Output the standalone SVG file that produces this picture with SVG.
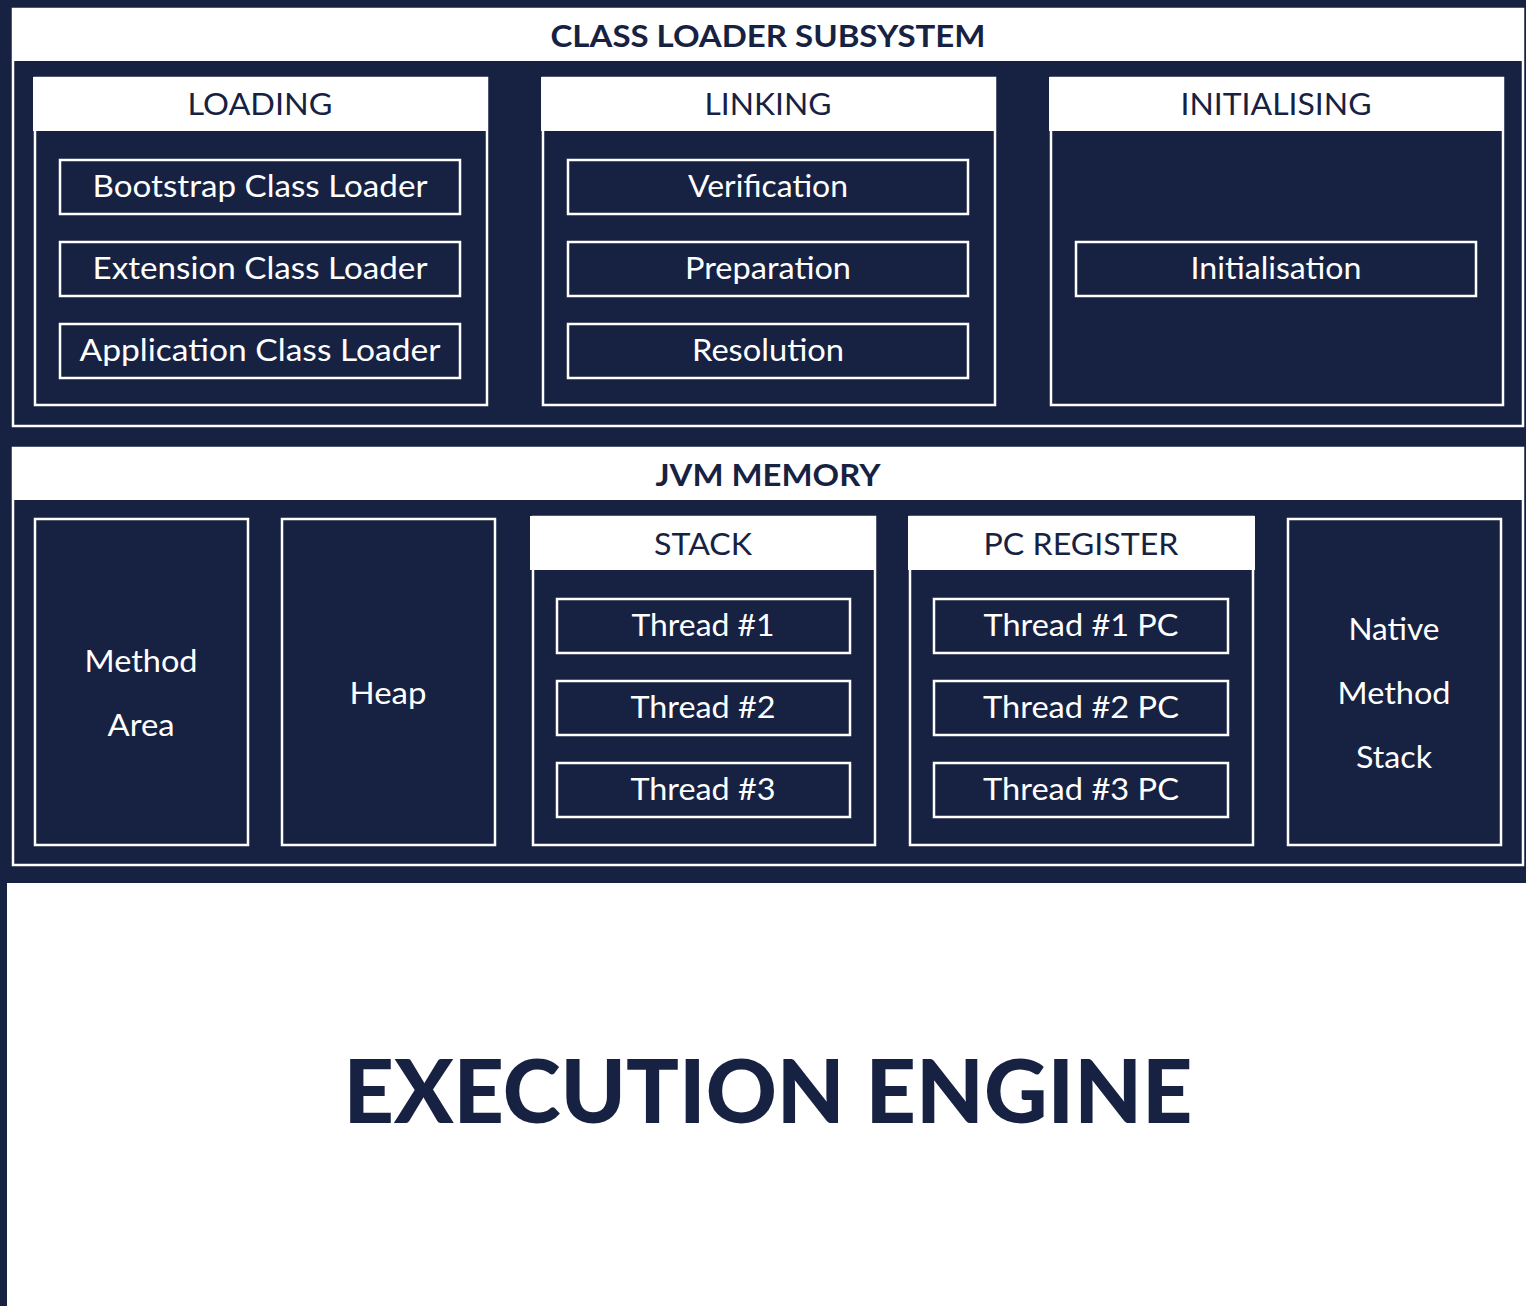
<svg xmlns="http://www.w3.org/2000/svg" width="1526" height="1306" viewBox="0 0 1526 1306">
<style>
.box{fill:none;stroke:#ffffff;stroke-width:2.5}
.hdr{fill:#ffffff}
.t{font-family:Lato,"Noto Sans",sans-serif;font-size:30px;fill:#ffffff;text-anchor:middle;dominant-baseline:central}
.h{font-family:Lato,"Noto Sans",sans-serif;font-size:30px;fill:#172243;text-anchor:middle;dominant-baseline:central}
.b{font-family:Lato,"Noto Sans",sans-serif;font-weight:bold;font-size:30px;fill:#172243;text-anchor:middle;dominant-baseline:central}
</style>
<rect x="0" y="0" width="1526" height="1306" fill="#172243"/>
<rect x="7" y="883" width="1519" height="423" fill="#ffffff"/>

<g id="class-loader-subsystem">
<rect class="box" x="13" y="9" width="1510" height="417"/>
<rect class="hdr" x="12" y="8" width="1512" height="53"/>
<text class="b" x="768" y="35" textLength="435" lengthAdjust="spacingAndGlyphs">CLASS LOADER SUBSYSTEM</text>
</g>

<g id="loading">
<rect class="box" x="35" y="78" width="452" height="327"/>
<rect class="hdr" x="33" y="77" width="455" height="54"/>
<text class="h" x="260" y="103" textLength="145" lengthAdjust="spacingAndGlyphs">LOADING</text>
</g>
<g id="bootstrap"><rect class="box" x="60" y="160" width="400" height="54"/><text class="t" x="260" y="185" textLength="335" lengthAdjust="spacingAndGlyphs">Bootstrap Class Loader</text></g>
<g id="extension"><rect class="box" x="60" y="242" width="400" height="54"/><text class="t" x="260" y="267" textLength="335" lengthAdjust="spacingAndGlyphs">Extension Class Loader</text></g>
<g id="application"><rect class="box" x="60" y="324" width="400" height="54"/><text class="t" x="260" y="349" textLength="361" lengthAdjust="spacingAndGlyphs">Application Class Loader</text></g>

<g id="linking">
<rect class="box" x="543" y="78" width="452" height="327"/>
<rect class="hdr" x="541" y="77" width="455" height="54"/>
<text class="h" x="768" y="103" textLength="127" lengthAdjust="spacingAndGlyphs">LINKING</text>
</g>
<g id="verification"><rect class="box" x="568" y="160" width="400" height="54"/><text class="t" x="768" y="185" textLength="160" lengthAdjust="spacingAndGlyphs">Verification</text></g>
<g id="preparation"><rect class="box" x="568" y="242" width="400" height="54"/><text class="t" x="768" y="267" textLength="166" lengthAdjust="spacingAndGlyphs">Preparation</text></g>
<g id="resolution"><rect class="box" x="568" y="324" width="400" height="54"/><text class="t" x="768" y="349" textLength="152" lengthAdjust="spacingAndGlyphs">Resolution</text></g>

<g id="initialising">
<rect class="box" x="1051" y="78" width="452" height="327"/>
<rect class="hdr" x="1049" y="77" width="455" height="54"/>
<text class="h" x="1276" y="103" textLength="191" lengthAdjust="spacingAndGlyphs">INITIALISING</text>
</g>
<g id="initialisation"><rect class="box" x="1076" y="242" width="400" height="54"/><text class="t" x="1276" y="267" textLength="171" lengthAdjust="spacingAndGlyphs">Initialisation</text></g>

<g id="jvm-memory">
<rect class="box" x="13" y="448" width="1510" height="417"/>
<rect class="hdr" x="12" y="447" width="1512" height="53"/>
<text class="b" x="768" y="474" textLength="225" lengthAdjust="spacingAndGlyphs">JVM MEMORY</text>
</g>

<g id="method-area"><rect class="box" x="35" y="519" width="213" height="326"/>
<text class="t" x="141" y="660" textLength="113" lengthAdjust="spacingAndGlyphs">Method</text><text class="t" x="141" y="724" textLength="67" lengthAdjust="spacingAndGlyphs">Area</text></g>
<g id="heap"><rect class="box" x="282" y="519" width="213" height="326"/>
<text class="t" x="388" y="692" textLength="77" lengthAdjust="spacingAndGlyphs">Heap</text></g>

<g id="stack">
<rect class="box" x="533" y="517" width="342" height="328"/>
<rect class="hdr" x="530" y="516" width="346" height="54"/>
<text class="h" x="703" y="543" textLength="98" lengthAdjust="spacingAndGlyphs">STACK</text>
</g>
<g id="thread1"><rect class="box" x="557" y="599" width="293" height="54"/><text class="t" x="703" y="624" textLength="143" lengthAdjust="spacingAndGlyphs">Thread #1</text></g>
<g id="thread2"><rect class="box" x="557" y="681" width="293" height="54"/><text class="t" x="703" y="706" textLength="145" lengthAdjust="spacingAndGlyphs">Thread #2</text></g>
<g id="thread3"><rect class="box" x="557" y="763" width="293" height="54"/><text class="t" x="703" y="788" textLength="145" lengthAdjust="spacingAndGlyphs">Thread #3</text></g>

<g id="pc-register">
<rect class="box" x="910" y="517" width="343" height="328"/>
<rect class="hdr" x="908" y="516" width="347" height="54"/>
<text class="h" x="1081" y="543" textLength="195" lengthAdjust="spacingAndGlyphs">PC REGISTER</text>
</g>
<g id="thread1pc"><rect class="box" x="934" y="599" width="294" height="54"/><text class="t" x="1081" y="624" textLength="195" lengthAdjust="spacingAndGlyphs">Thread #1 PC</text></g>
<g id="thread2pc"><rect class="box" x="934" y="681" width="294" height="54"/><text class="t" x="1081" y="706" textLength="196" lengthAdjust="spacingAndGlyphs">Thread #2 PC</text></g>
<g id="thread3pc"><rect class="box" x="934" y="763" width="294" height="54"/><text class="t" x="1081" y="788" textLength="196" lengthAdjust="spacingAndGlyphs">Thread #3 PC</text></g>

<g id="native-method-stack"><rect class="box" x="1288" y="519" width="213" height="326"/>
<text class="t" x="1394" y="628" textLength="91" lengthAdjust="spacingAndGlyphs">Native</text><text class="t" x="1394" y="692" textLength="113" lengthAdjust="spacingAndGlyphs">Method</text><text class="t" x="1394" y="756" textLength="76" lengthAdjust="spacingAndGlyphs">Stack</text></g>

<g id="execution-engine">
<text x="768" y="1089" font-family="Lato,'Noto Sans',sans-serif" font-weight="900" font-size="88" fill="#172243" text-anchor="middle" dominant-baseline="central" textLength="849" lengthAdjust="spacingAndGlyphs">EXECUTION ENGINE</text>
</g>
<g id="connectors"></g>
</svg>
